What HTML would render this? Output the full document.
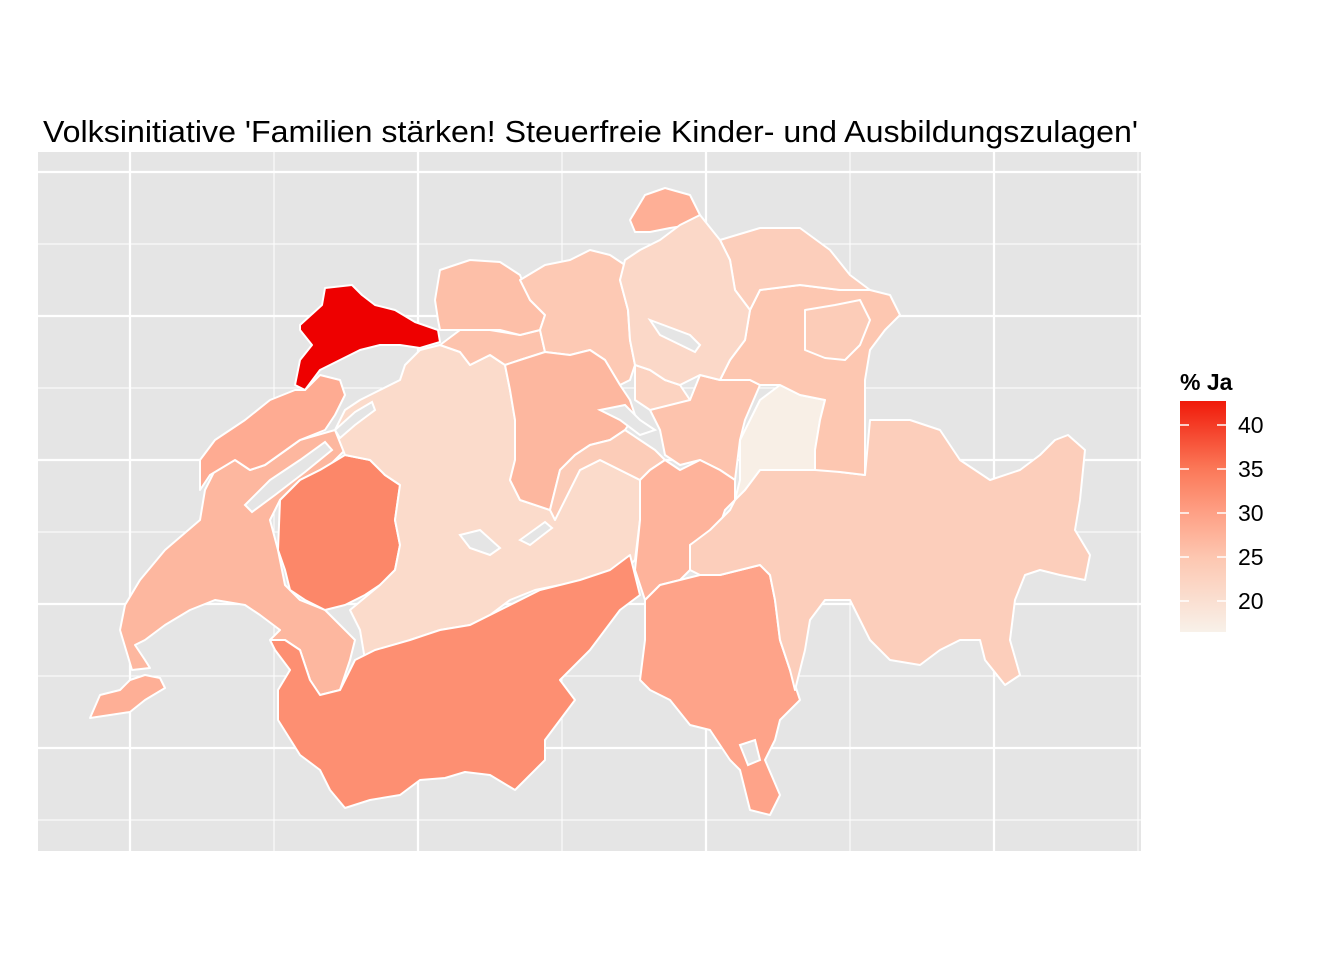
<!DOCTYPE html>
<html><head><meta charset="utf-8">
<style>
html,body{margin:0;padding:0;background:#fff;}
svg{display:block;font-family:"Liberation Sans",sans-serif;}
</style></head>
<body>
<svg id="chart" width="1344" height="960" viewBox="0 0 1344 960" xmlns="http://www.w3.org/2000/svg">
<defs>
<linearGradient id="lg" x1="0" y1="1" x2="0" y2="0">
<stop offset="0" stop-color="#f8f1e9"/>
<stop offset="0.32" stop-color="#fdc7b1"/>
<stop offset="0.52" stop-color="#fe9f84"/>
<stop offset="0.71" stop-color="#fb7757"/>
<stop offset="1" stop-color="#f01a0a"/>
</linearGradient>
</defs>
<rect x="38" y="152" width="1103" height="699" fill="#e5e5e5"/>
<g id="grid"></g>
<g id="map"></g>
<text x="43" y="142" font-size="31" textLength="1095" lengthAdjust="spacingAndGlyphs" fill="#000">Volksinitiative 'Familien stärken! Steuerfreie Kinder- und Ausbildungszulagen'</text>
<g>
<text x="1180" y="390" font-size="23" font-weight="bold">% Ja</text>
<rect x="1180" y="401" width="46" height="231" fill="url(#lg)"/>
<g id="legticks"></g>
</g>
</svg>
<script>
const cantons=["GE","VD","NE","FR","BE","VS","JU","SO","BL","AG","LU","NW","ZG","SZ","UR","TI","GR","GL","SG","AR","TG","SH","ZH"];
const values=[28,27,28.5,33,21,32,42.7,25.5,26,24.5,27,24,22.5,25.5,27.5,29.5,23.5,17,25,24,23.5,28,21.5];
const legendTicks=[20,25,30,35,40];
const vmin=16.5,vmax=42.7;
const shapes={
GE:"90,718 100,695 120,690 130,680 145,675 160,678 165,688 145,700 130,712 110,715",
VD:"120,630 125,605 140,580 165,550 200,520 205,490 215,470 235,460 250,470 265,465 300,440 335,430 345,450 330,465 300,480 280,500 270,520 278,550 285,585 300,600 325,610 340,625 355,640 350,660 340,690 320,695 310,680 300,650 285,640 270,640 280,630 260,615 245,605 215,600 190,610 165,625 145,640 135,645 145,660 150,668 132,670 126,650",
NE:"200,460 215,440 245,420 270,400 295,390 305,390 320,375 340,380 345,395 335,415 325,430 300,440 265,465 250,470 235,460 210,475 200,490",
FR:"280,500 300,480 320,470 345,455 370,460 385,475 400,485 395,520 400,545 395,570 380,585 365,595 345,605 325,610 305,600 290,590 285,570 278,550",
BE:"335,430 345,410 360,400 380,390 400,380 405,365 420,350 440,345 460,352 470,365 490,355 505,365 510,390 515,420 515,460 510,480 520,500 550,510 560,495 580,470 600,460 620,470 640,480 640,520 635,560 620,575 600,580 580,590 560,585 535,590 510,600 490,615 470,625 440,630 410,640 385,650 365,660 360,630 350,610 380,585 395,570 400,545 395,520 400,485 385,475 370,460 345,455",
VS:"275,650 270,640 285,640 300,650 310,680 320,695 340,690 355,660 375,650 410,640 440,630 470,625 500,610 540,590 580,580 610,570 630,555 635,575 640,595 620,610 605,630 590,650 575,665 560,680 575,700 560,720 545,740 545,760 515,790 490,775 465,772 445,778 420,780 400,795 370,800 345,808 330,790 320,770 300,755 278,720 278,690 290,670",
JU:"300,325 322,305 325,288 352,285 362,295 375,305 395,310 415,322 438,330 440,342 420,348 400,345 380,345 360,350 340,360 320,370 305,390 295,385 300,360 312,345 300,330",
SO:"440,345 460,330 490,330 520,335 540,330 545,352 520,360 505,365 490,355 470,365 460,352",
BL:"440,270 470,260 500,262 520,275 530,300 545,315 540,330 520,335 500,330 480,330 460,330 440,330 438,320 435,300",
AG:"520,280 545,265 570,260 590,250 610,255 625,265 620,280 628,310 630,340 635,365 630,380 620,385 605,360 590,350 570,355 545,352 540,330 545,315 530,300",
LU:"505,365 520,360 545,352 570,355 590,350 605,360 620,385 630,400 635,415 625,430 610,440 590,445 575,455 560,470 555,490 550,510 520,500 510,480 515,460 515,420 510,390",
NW:"560,470 575,455 590,445 610,440 625,430 640,440 655,450 665,460 650,470 640,480 620,470 600,460 580,470 565,500 555,520 550,510",
ZG:"635,365 650,370 665,380 680,385 690,400 670,410 650,410 635,400",
SZ:"650,410 690,400 700,375 720,380 750,380 760,385 745,420 740,440 735,480 720,470 700,460 680,465 665,455 660,430",
UR:"640,480 650,470 665,460 680,470 700,460 720,470 735,480 735,500 725,510 720,525 705,535 690,545 690,570 680,580 660,585 645,600 635,570 640,520",
TI:"645,600 660,585 680,580 700,575 720,575 740,570 760,565 770,575 775,600 780,640 790,670 800,700 780,720 775,740 765,760 780,795 770,815 750,810 745,790 740,770 730,760 720,745 710,730 690,725 670,700 650,690 640,680 645,640",
GR:"690,570 690,545 710,530 730,510 740,490 760,470 790,470 810,465 840,472 865,475 870,420 910,420 940,430 960,460 990,480 1020,470 1040,455 1055,440 1068,435 1085,450 1080,500 1075,530 1090,555 1085,580 1060,575 1040,570 1025,575 1015,600 1010,640 1020,675 1005,685 985,660 980,640 960,640 940,650 920,665 890,660 870,640 860,620 850,600 825,600 810,620 805,650 795,690 790,670 780,640 775,600 770,575 760,565 740,570 720,575 700,575",
GL:"740,440 760,400 780,385 800,395 825,400 820,420 815,450 815,470 790,470 760,470 745,490 735,500 740,480",
SG:"720,380 730,360 745,340 750,310 760,290 800,285 840,290 870,290 890,295 900,315 885,330 870,350 865,380 865,420 865,475 840,472 815,470 815,450 820,420 825,400 800,395 780,385 760,385 750,380",
AR:"805,310 835,305 860,300 870,320 860,345 845,360 825,358 805,350",
TG:"720,240 760,228 800,228 830,250 850,275 870,290 840,290 800,285 760,290 750,310 735,290 730,260",
SH:"630,220 645,195 665,188 690,195 700,215 690,225 670,228 650,232 635,232",
ZH:"620,280 625,260 640,250 660,240 680,225 700,215 720,240 730,260 735,290 750,310 745,340 730,360 720,380 700,375 680,385 665,380 650,370 635,365 630,340 628,310"
};
const lakes=[
"245,505 270,480 300,460 325,442 332,450 305,472 275,495 252,512",
"335,430 355,412 372,402 375,410 355,425 340,438",
"460,535 480,530 500,548 490,555 470,548",
"520,540 545,522 552,528 530,545",
"650,320 690,335 700,345 695,352 660,335",
"600,410 625,405 640,420 655,430 640,435 620,420",
"740,745 755,740 760,760 748,765"
];
const ns="http://www.w3.org/2000/svg";
const stops=[[16.5,[248,241,233]],[25,[253,199,177]],[30,[254,159,132]],[35,[251,119,87]],[42.7,[238,0,0]]];
function color(v){
  for(let i=0;i<stops.length-1;i++){
    const a=stops[i],b=stops[i+1];
    if(v<=b[0]||i==stops.length-2){
      const t=Math.max(0,Math.min(1,(v-a[0])/(b[0]-a[0])));
      const c=a[1].map((x,k)=>Math.round(x+(b[1][k]-x)*t));
      return `rgb(${c[0]},${c[1]},${c[2]})`;
    }
  }
}
const grid=document.getElementById('grid');
function line(x1,y1,x2,y2,w){
  const l=document.createElementNS(ns,'line');
  l.setAttribute('x1',x1);l.setAttribute('y1',y1);l.setAttribute('x2',x2);l.setAttribute('y2',y2);
  l.setAttribute('stroke','#fff');l.setAttribute('stroke-width',w);
  
  
  grid.appendChild(l);
}
[274,562,850,1138].forEach(x=>line(x,152,x,851,1));
[244,388,532,676,820].forEach(y=>line(38,y,1141,y,1));
[130,418,706,994].forEach(x=>line(x,152,x,851,2.2));
[172,316,460,604,748].forEach(y=>line(38,y,1141,y,2.2));
const map=document.getElementById('map');
cantons.forEach((c,i)=>{
  const p=document.createElementNS(ns,'polygon');
  p.setAttribute('points',shapes[c]);
  p.setAttribute('fill',color(values[i]));
  p.setAttribute('stroke','#fff');
  p.setAttribute('stroke-width','2');
  p.setAttribute('stroke-linejoin','round');
  
  
  map.appendChild(p);
});
lakes.forEach(pts=>{
  const p=document.createElementNS(ns,'polygon');
  p.setAttribute('points',pts);
  p.setAttribute('fill','#e5e5e5');
  p.setAttribute('stroke','#fff');
  p.setAttribute('stroke-width','2');
  
  
  map.appendChild(p);
});
const lt=document.getElementById('legticks');
function ly(v){return 601-(v-20)*8.8;}
legendTicks.forEach(v=>{
  const y=ly(v);
  [[1180,1189],[1217,1226]].forEach(([a,b])=>{
    const l=document.createElementNS(ns,'line');
    l.setAttribute('x1',a);l.setAttribute('x2',b);l.setAttribute('y1',y);l.setAttribute('y2',y);
    l.setAttribute('stroke','#fff');l.setAttribute('stroke-width','1.5');
    
    
    lt.appendChild(l);
  });
  const t=document.createElementNS(ns,'text');
  t.setAttribute('x',1238);t.setAttribute('y',y+8);t.setAttribute('font-size','23');
  t.textContent=v;
  
  
  lt.appendChild(t);
});
</script>
</body></html>
